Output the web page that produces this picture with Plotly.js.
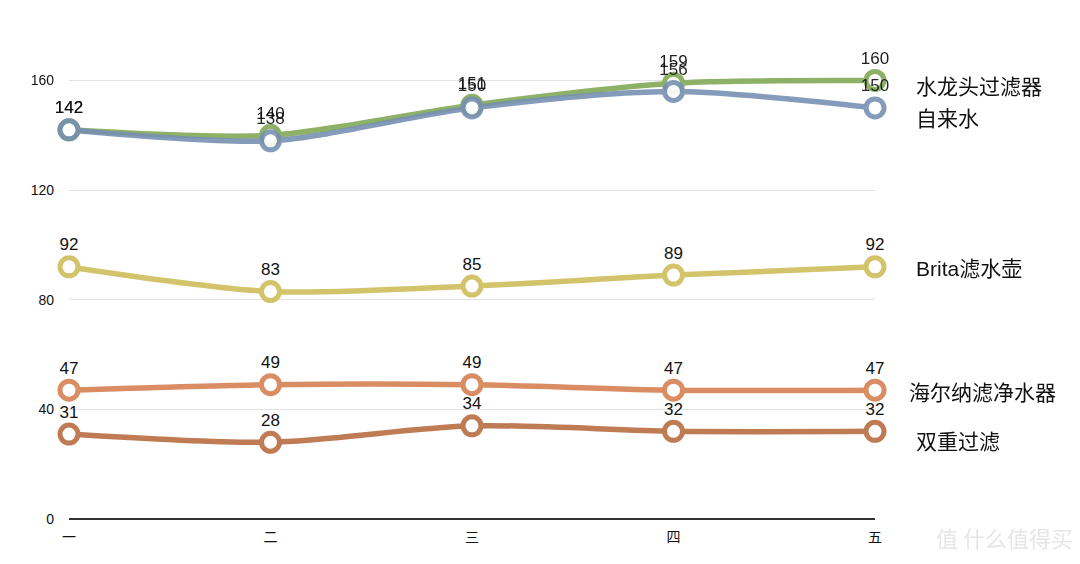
<!DOCTYPE html>
<html><head><meta charset="utf-8">
<script src="https://cdn.plot.ly/plotly-3.0.1.min.js"></script>
<style>html,body{margin:0;padding:0;background:#fff}#chart{width:1080px;height:564px}</style>
</head><body><div id="chart"></div>
<script>
const categories = ['一','二','三','四','五'];
const seriesNames = ['水龙头过滤器','自来水','Brita滤水壶','海尔纳滤净水器','双重过滤'];
const faucetFilter = [142,140,151,159,160];
const tapWater = [142,138,150,156,150];
const brita = [92,83,85,89,92];
const haier = [47,49,49,47,47];
const doubleFilter = [31,28,34,32,32];
const yTicks = [0,40,80,120,160];

const seriesData = [faucetFilter, tapWater, brita, haier, doubleFilter];
const colors = ['#88ad60','#7790b1','#d3c46b','#da8d63','#bf7b53'];
const opac = [0.95,0.9,1,1,1];
const labelY = [157.8,146,91.3,46.2,28.4];
const labelX = [914,914,914,907,914];

const xs = categories.map((c,i)=>i);
const traces = seriesData.map((vals,k)=>({
  x: xs, y: vals, type:'scatter', mode:'lines+markers+text',
  name: seriesNames[k],
  line:{color:colors[k], width:5.5, shape:'spline', smoothing:0.8},
  marker:{symbol:'circle', size:18, color:'#ffffff', line:{color:colors[k], width:5}},
  opacity: opac[k],
  text: vals.map(String), textposition:'top center',
  textfont:{family:'Liberation Sans, Arial, sans-serif', size:17, color:'#111'},
  cliponaxis:false, hoverinfo:'skip'
}));

const annotations = seriesNames.map((n,k)=>({
  xref:'paper', yref:'y', x:(labelX[k]-69)/806, y:labelY[k], xanchor:'left', yanchor:'middle',
  text:n, showarrow:false,
  font:{family:'Liberation Sans, "Noto Sans CJK SC", sans-serif', size:21, color:'#111'}
}));
annotations.push({xref:'paper', yref:'paper', x:(1075-69)/806, y:-0.037, xanchor:'right', yanchor:'middle',
  text:'值 什么值得买', showarrow:false,
  font:{family:'"Noto Sans CJK SC", sans-serif', size:22, color:'#e6e6e6'}});

const layout = {
  width:1080, height:564,
  margin:{l:69, r:205, t:38, b:45},
  paper_bgcolor:'#fff', plot_bgcolor:'#fff',
  showlegend:false,
  font:{family:'Liberation Sans, "Noto Sans CJK SC", sans-serif', color:'#111'},
  xaxis:{range:[0,4], tickvals:xs, ticktext:categories, showgrid:false, zeroline:false,
    showline:false, ticks:'', ticklabelstandoff:8, tickfont:{size:14, color:'#111'}, fixedrange:true},
  yaxis:{range:[0,175.5], tickvals:yTicks, ticktext:yTicks.map(String), showgrid:true,
    gridcolor:'#e2e2e2', gridwidth:1, zeroline:true, zerolinecolor:'#333', zerolinewidth:2,
    showline:false, ticks:'', ticklabelstandoff:14, tickfont:{size:14, color:'#111'}, fixedrange:true},
  annotations: annotations
};
Plotly.newPlot('chart', traces, layout, {staticPlot:true, displayModeBar:false});
</script></body></html>
